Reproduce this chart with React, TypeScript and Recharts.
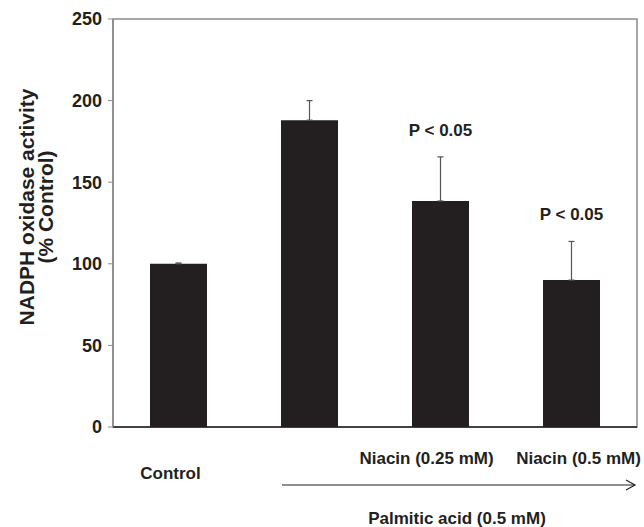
import React from "react";
import { BarChart, Bar, XAxis, YAxis, ErrorBar, LabelList, ReferenceArea } from "recharts";

const categories = ["Control", "Palmitic acid", "Niacin (0.25 mM)", "Niacin (0.5 mM)"];
const tickLabels = ["Control", "", "Niacin (0.25 mM)", "Niacin (0.5 mM)"];
const activity = [100, 188, 138.5, 90];
const sem = [0.5, 12, 27, 23.7];
const significance = ["", "", "P < 0.05", "P < 0.05"];
const yTicks = [0, 50, 100, 150, 200, 250];

const data = categories.map((c, i) => ({
  name: c,
  value: activity[i],
  err: [0, sem[i]],
  sig: significance[i],
}));

const FONT = "'Liberation Sans', Arial, sans-serif";
const INK = "#231f20";

// tick labels sit below the axis at two different heights, like the original
const tickShift = [
  { dx: -8, dy: 52 },
  { dx: 0, dy: 0 },
  { dx: -14, dy: 37 },
  { dx: 7, dy: 37 },
];

function CategoryTick(props: any) {
  const { x, y, index } = props;
  const label = tickLabels[index];
  if (!label) return null;
  const s = tickShift[index];
  return (
    <text x={x + s.dx} y={y + s.dy} textAnchor="middle" fontFamily={FONT} fontWeight="bold" fontSize={17} fill={INK}>
      {label}
    </text>
  );
}

function PalmiticLabel(props: any) {
  const { x, y } = props.viewBox;
  const x0 = x + 169;
  const x1 = x + 522;
  const ay = y + 58;
  return (
    <g>
      <line x1={x0} y1={ay} x2={x1} y2={ay} stroke={INK} strokeWidth={1.2} />
      <polyline points={`${x1 - 9},${ay - 5} ${x1},${ay} ${x1 - 9},${ay + 5}`} fill="none" stroke={INK} strokeWidth={1.2} />
      <text x={x + 344} y={y + 97} textAnchor="middle" fontFamily={FONT} fontWeight="bold" fontSize={17} fill={INK}>
        Palmitic acid (0.5 mM)
      </text>
    </g>
  );
}

function YTitle(props: any) {
  const { y, height } = props.viewBox;
  const cy = y + height / 2 - 16;
  return (
    <g fontFamily={FONT} fontWeight="bold" fontSize={21} fill={INK}>
      <text x={26} y={cy} textAnchor="middle" dominantBaseline="central" transform={`rotate(-90 26 ${cy})`}>
        NADPH oxidase activity
      </text>
      <text x={45} y={cy} textAnchor="middle" dominantBaseline="central" transform={`rotate(-90 45 ${cy})`}>
        (% Control)
      </text>
    </g>
  );
}

function SigLabel(props: any) {
  const { x, y, width, height, index, value } = props;
  if (!value) return null;
  const perUnit = height / activity[index];
  const top = y - sem[index] * perUnit;
  return (
    <text x={x + width / 2} y={top - 21} textAnchor="middle" fontFamily={FONT} fontWeight="bold" fontSize={17} fill={INK}>
      {value}
    </text>
  );
}

export default function App() {
  return (
    <div style={{ position: "absolute", left: 0, top: 0 }}>
      <BarChart width={644} height={527} data={data} margin={{ top: 19, right: 7, bottom: 0, left: 0 }} barSize={57}>
        <ReferenceArea y1={0} y2={250} fill="none" stroke="#8a8a8a" strokeWidth={1.5} ifOverflow="visible" />
        <XAxis
          dataKey="name"
          height={100}
          tickLine={false}
          tickSize={0}
          tickMargin={0}
          axisLine={{ stroke: INK, strokeWidth: 1.5 }}
          tick={<CategoryTick />}
          interval={0}
          label={<PalmiticLabel />}
        />
        <YAxis
          width={113}
          domain={[0, 250]}
          ticks={yTicks}
          tickSize={5}
          tickMargin={6}
          axisLine={{ stroke: "#8a8a8a", strokeWidth: 1.5 }}
          tickLine={{ stroke: "#8a8a8a" }}
          tick={{ fontFamily: FONT, fontWeight: "bold", fontSize: 18, fill: INK }}
          label={<YTitle />}
        />
        <Bar dataKey="value" fill={INK} isAnimationActive={false}>
          <ErrorBar dataKey="err" width={3} stroke="#555" strokeWidth={1.2} direction="y" />
          <LabelList dataKey="sig" content={<SigLabel />} />
        </Bar>
      </BarChart>
    </div>
  );
}
